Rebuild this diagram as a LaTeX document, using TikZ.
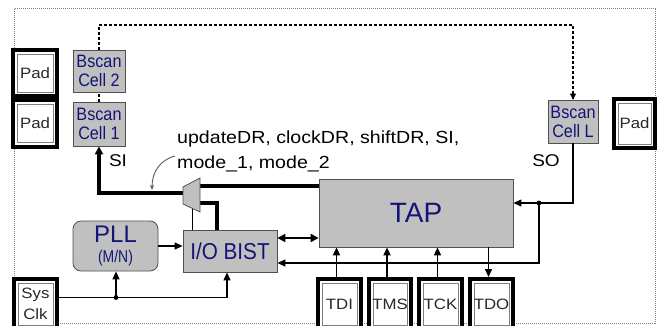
\documentclass[tikz,border=0pt]{standalone}
\usepackage{fontspec}
\setmainfont{Liberation Sans}
\newfontfamily\widefont[FakeStretch=1.12]{Liberation Sans}
\usetikzlibrary{arrows.meta}
\definecolor{boxgray}{RGB}{192,192,192}
\definecolor{edgegray}{RGB}{80,80,80}
\definecolor{navytext}{RGB}{20,20,120}
\definecolor{padtext}{RGB}{40,40,40}
\newcommand{\nar}[1]{\scalebox{0.9}[1]{#1}}
\begin{document}
\begin{tikzpicture}[x=1pt,y=-1pt,
  pad/.style={draw=black, line width=4pt, fill=white, inner sep=0pt, text=padtext,
    font=\widefont\fontsize{15}{21}\selectfont, align=center,
    path picture={\draw[gray, line width=0.8pt]
      ([xshift=4pt,yshift=-4pt]path picture bounding box.north west) rectangle
      ([xshift=-4pt,yshift=4pt]path picture bounding box.south east);}},
  graybox/.style={draw=edgegray, line width=0.8pt, fill=boxgray, inner sep=0pt, text=navytext, align=center},
  cellbox/.style={graybox, minimum width=52pt, font=\fontsize{18}{19}\selectfont},
  bus/.style={line width=3.6pt},
  sig/.style={line width=1.2pt, draw=black},
  tip/.style={-{Triangle[length=8pt,width=7pt]}},
  bustip/.style={-{Triangle[length=8pt,width=8pt]}},
  dotline/.style={line width=2.8pt, dash pattern=on 2.8pt off 2.2pt},
  lbl/.style={font=\widefont\fontsize{17}{25}\selectfont, inner sep=0pt}
]
\useasboundingbox (0,0) rectangle (663,326);
\clip (0,0) rectangle (663,326);
\fill[white] (0,0) rectangle (663,326);

% chip border
\draw[gray, line width=1pt, densely dotted] (14,9) rectangle (655,323);

% pads
\node[pad, minimum width=44pt, minimum height=46pt] (padA) at (35,73) {Pad};
\node[pad, minimum width=44pt, minimum height=46pt] (padB) at (35,123.5) {Pad};
\node[pad, minimum width=41pt, minimum height=49pt] (padC) at (634.5,123.5) {Pad};
\node[pad, minimum width=43pt, minimum height=50pt] (sysclk) at (35.5,304) {Sys\\Clk};
\node[pad, minimum width=43pt, minimum height=50pt] (tdi) at (339.5,304) {TDI};
\node[pad, minimum width=42pt, minimum height=50pt] (tms) at (390,304) {TMS};
\node[pad, minimum width=43pt, minimum height=50pt] (tck) at (440.5,304) {TCK};
\node[pad, minimum width=43pt, minimum height=50pt] (tdo) at (491.5,304) {TDO};

% boundary scan cells
\node[cellbox, minimum height=42pt] (cell2) at (99,71) {\nar{Bscan}\\\nar{Cell 2}};
\node[cellbox, minimum height=44pt] (cell1) at (99,124) {\nar{Bscan}\\\nar{Cell 1}};
\node[cellbox, minimum width=50pt, minimum height=43pt] (cellL) at (573,121.5) {\nar{Bscan}\\\nar{Cell L}};

% main blocks
\node[graybox, minimum width=194pt, minimum height=68pt, font=\fontsize{28}{30}\selectfont] (tap) at (416,213) {TAP};
\node[graybox, minimum width=94pt, minimum height=42pt, font=\fontsize{23}{25}\selectfont] (io) at (230,251) {\nar{I/O BIST}};
\node[graybox, rounded corners=8pt, minimum width=85pt, minimum height=50pt,
  font=\fontsize{24}{20}\selectfont] (pll) at (115.5,246)
  {PLL\\{\fontsize{17}{20}\selectfont\scalebox{0.82}[1]{(M/N)}}};

% mux
\coordinate (muxL) at (183,193);
\coordinate (muxR1) at (200,186);
\coordinate (muxR2) at (200,203);
\coordinate (muxB) at (192,208);

% scan chain (dotted)
\draw[dotline] (cell2.north) -- (99,25) -| (cellL.north);
\draw[-{Triangle[length=6pt,width=6pt]}, line width=1pt] (573,92) -- (cellL.north);
\draw[dotline] (cell1.north) -- (cell2.south);

% buses
\draw[bus, bustip] (muxL) -| (cell1.south);
\draw[bus] (muxR1) -- (muxR1 -| tap.west);
\draw[bus] (muxR2) -| ([xshift=-13pt]io.north);
\draw[sig, line width=1pt] (muxB) -- (muxB |- io.north);
\draw[line width=2.6pt, {Triangle[length=8pt,width=8pt]}-{Triangle[length=8pt,width=8pt]}]
  ([yshift=13pt]io.east) -- ([yshift=13pt]io.east -| tap.west);

\fill[boxgray, draw=edgegray, line width=0.8pt] (183,187) -- (200,178) -- (200,212) -- (183,204) -- cycle;

% thin signals
\draw[sig, tip] (pll.east) -- (pll.east -| io.west);
\coordinate (soj) at (539,203);
\draw[sig] (cellL.south) |- (soj);
\draw[sig, tip] (soj) -- (soj -| tap.east);
\draw[sig, tip] (soj) |- ([yshift=-12pt]io.east);
\fill (soj) circle (2.4pt);

\coordinate (clkj) at (116,297.5);
\draw[sig, tip] ([yshift=6.5pt]sysclk.east) -| ([xshift=-3pt]io.south);
\draw[sig, tip] (clkj) -- (clkj |- pll.south);
\fill (clkj) circle (2.4pt);

\draw[sig, tip, line width=1.8pt] ([xshift=-3pt]tdi.north) -- ([xshift=-3pt]tdi.north |- tap.south);
\draw[sig, tip, line width=1.8pt] ([xshift=-3pt]tms.north) -- ([xshift=-3pt]tms.north |- tap.south);
\draw[sig, tip, line width=1.8pt] ([xshift=-3pt]tck.north) -- ([xshift=-3pt]tck.north |- tap.south);
\draw[sig, tip, line width=1.5pt] ([xshift=-3pt]tdo.north |- tap.south) -- ([xshift=-3pt]tdo.north);

% labels
\node[lbl, anchor=west, align=left, font=\widefont\fontsize{17.5}{25}\selectfont] (ctl) at (177,151) {updateDR, clockDR, shiftDR, SI,\\mode\_1, mode\_2};
\node[lbl] (si) at (118,161) {SI};
\node[lbl] (so) at (546,161) {SO};
\draw[gray!70!black, line width=0.9pt, -{Stealth[length=5pt,width=4pt]}]
  ([xshift=-2pt,yshift=-5pt]ctl.west) .. controls (160,160) and (152,172) .. (152,190);
\end{tikzpicture}
\end{document}
